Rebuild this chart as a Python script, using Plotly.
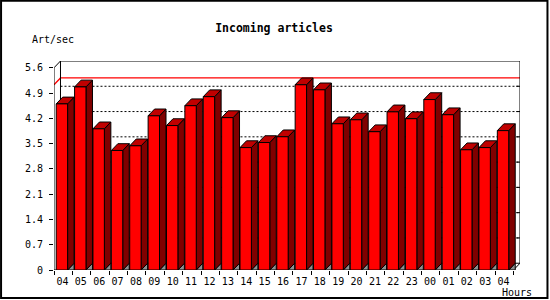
import plotly.graph_objects as go

# ---------------- data ----------------
hours = ["04", "05", "06", "07", "08", "09", "10", "11", "12", "13", "14", "15", "16",
         "17", "18", "19", "20", "21", "22", "23", "00", "01", "02", "03", "04"]
rates = [4.60, 5.07, 3.91, 3.31, 3.44, 4.27, 4.00, 4.55, 4.80, 4.22, 3.39, 3.53, 3.69,
         5.13, 4.99, 4.05, 4.16, 3.83, 4.38, 4.19, 4.72, 4.30, 3.33, 3.39, 3.86]
y_ticks = [0, 0.7, 1.4, 2.1, 2.8, 3.5, 4.2, 4.9, 5.6]
y_tick_labels = ["0", "0.7", "1.4", "2.1", "2.8", "3.5", "4.2", "4.9", "5.6"]
title_text = "Incoming articles"
y_title = "Art/sec"
x_title = "Hours"

# ---------------- geometry (pixels -> data units) ----------------
W, H = 550, 300
L = 54            # front y-axis pixel
BOTTOM = 29.5     # front x-axis is at H - BOTTOM
PX_SLOT = 18.4    # px per category
PX_UNIT = 36.2    # px per y unit
DX_PX, DY_PX = 6.5, 6.8
n = len(hours)
ymax = y_ticks[-1]
dx = DX_PX / PX_SLOT
dy = DY_PX / PX_UNIT
plot_w = (n + dx) * PX_SLOT
plot_h = (ymax + dy) * PX_UNIT
T = H - BOTTOM - plot_h
R = W - L - plot_w

BAR_OFF = 0.12
BAR_W = 0.62

FONT = "DejaVu Sans Mono"


def poly_trace(polys, fillcolor, linecolor="black", width=1, fill="toself", dash=None):
    xs, ys = [], []
    for p in polys:
        for (a, b) in p:
            xs.append(a)
            ys.append(b)
        xs.append(None)
        ys.append(None)
    line = dict(color=linecolor, width=width)
    if dash:
        line["dash"] = dash
    return go.Scatter(x=xs, y=ys, mode="lines", fill=fill, fillcolor=fillcolor,
                      line=line, hoverinfo="skip", showlegend=False)


fig = go.Figure()

# back-plane dotted grid
grid = [[(dx, v + dy), (n + dx, v + dy)] for v in y_ticks[1:-1]]
fig.add_trace(poly_trace(grid, None, width=1, fill="none", dash="2px,2px"))

# red max line
m = max(rates)
fig.add_trace(poly_trace([[(0, m), (dx, m + dy), (n + dx, m + dy)]], None,
                         linecolor="#ff0000", width=1.3, fill="none"))

# frame
frame = [
    [(0, 0), (0, ymax), (dx, ymax + dy), (n + dx, ymax + dy), (n + dx, dy), (n, 0), (0, 0)],
    [(dx, dy), (dx, ymax + dy)],
    [(dx, dy), (n + dx, dy)],
]
fig.add_trace(poly_trace(frame, None, fill="none"))

# inward ticks on the back right edge
rt = [[(n + dx, v + dy), (n + dx - 0.2, v + dy)] for v in y_ticks[1:-1]]
fig.add_trace(poly_trace(rt, None, fill="none"))

# 3D bars
grays, sides, tops, fronts = [], [], [], []
for i, v in enumerate(rates):
    xl = i + BAR_OFF
    xr = xl + BAR_W
    grays.append([(xr, 0), (xr + dx, dy), (xr + dx, 0), (xr, 0)])
    sides.append([(xr, 0), (xr, v), (xr + dx, v + dy), (xr + dx, dy), (xr, 0)])
    tops.append([(xl, v), (xl + dx, v + dy), (xr + dx, v + dy), (xr, v), (xl, v)])
    fronts.append([(xl, 0), (xl, v), (xr, v), (xr, 0), (xl, 0)])

fig.add_trace(poly_trace(grays, "#909090"))
fig.add_trace(poly_trace(sides, "#800000"))
fig.add_trace(poly_trace(tops, "#c00000"))
fig.add_trace(poly_trace(fronts, "#ff0000"))

fig.update_layout(
    width=W, height=H,
    margin=dict(l=L, r=R, t=T, b=BOTTOM, pad=0),
    paper_bgcolor="white", plot_bgcolor="white",
    showlegend=False,
    font=dict(family=FONT, size=10, color="black"),
    title=dict(text="<b>" + title_text + "</b>", x=274 / W, xref="container", xanchor="center",
               y=1 - 28 / H, yref="container", yanchor="middle",
               font=dict(family=FONT, size=11.5, color="black")),
    xaxis=dict(range=[0, n + dx], showgrid=False, zeroline=False, showline=False,
               tickmode="array", tickvals=[i + 0.46 for i in range(n)], ticktext=hours,
               ticks="outside", ticklen=2, tickcolor="rgba(0,0,0,0)",
               minor=dict(tickmode="array", tickvals=list(range(n + 1)), ticks="outside",
                          ticklen=4, tickcolor="black", tickwidth=1, showgrid=False),
               tickfont=dict(family=FONT, size=10, color="black"), fixedrange=True),
    yaxis=dict(range=[0, ymax + dy], showgrid=False, zeroline=False, showline=False,
               tickmode="array", tickvals=y_ticks, ticktext=y_tick_labels,
               ticks="outside", ticklen=4, tickcolor="black", tickwidth=1,
               ticklabelstandoff=4,
               tickfont=dict(family=FONT, size=10, color="black"), fixedrange=True),
)

# axis titles
fig.add_annotation(text=y_title, xref="paper", yref="paper",
                   x=(30 - L) / plot_w, y=(H - BOTTOM - 39) / plot_h,
                   xanchor="left", yanchor="middle", showarrow=False,
                   font=dict(family=FONT, size=10, color="black"))
fig.add_annotation(text=x_title, xref="paper", yref="paper",
                   x=(535 - L) / plot_w, y=(H - BOTTOM - 293) / plot_h,
                   xanchor="right", yanchor="middle", showarrow=False,
                   font=dict(family=FONT, size=10, color="black"))

# outer frame of the image
fig.add_shape(type="rect", xref="paper", yref="paper",
              x0=(1 - L) / plot_w, x1=(548 - L) / plot_w,
              y0=(H - BOTTOM - 298.5) / plot_h, y1=(H - BOTTOM - 0.5) / plot_h,
              line=dict(color="black", width=2), fillcolor="rgba(0,0,0,0)", layer="above")

fig.write_html("out.html")
